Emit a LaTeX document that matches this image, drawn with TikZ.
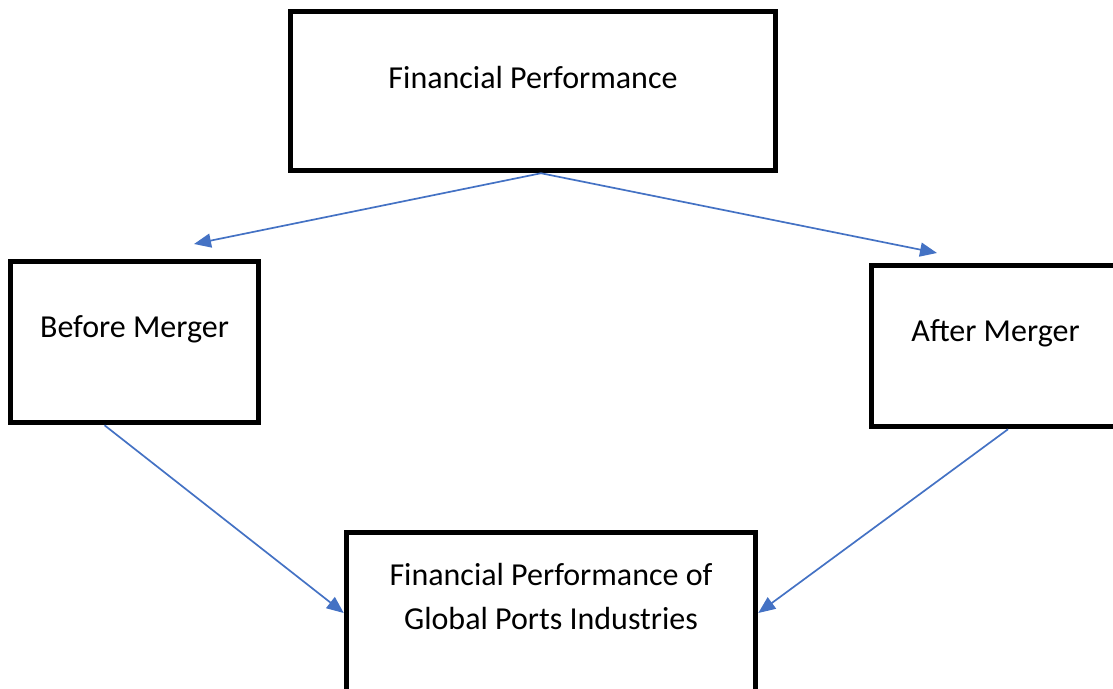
\documentclass[tikz,border=0pt]{standalone}
\usepackage{fontspec}
\setmainfont{Carlito}
\usetikzlibrary{arrows.meta,positioning}
\definecolor{linkblue}{RGB}{68,114,196}

\begin{document}
\begin{tikzpicture}[x=1pt,y=-1pt,
  panel/.style={draw=black, line width=5pt, inner sep=0pt, minimum width=248.5pt, minimum height=161.5pt},
  caption/.style={yshift=13pt, font=\fontsize{32}{44}\selectfont, align=center},
  link/.style={draw=linkblue, line width=1.7pt, -{Triangle[length=17pt,width=14pt]}}]
  \clip (0,0) rectangle (1113,688);

  % Boxes
  \node[panel, minimum width=485.5pt, minimum height=159.5pt,
        label={[caption]center:Financial Performance}] (perf) at (533,91) {};
  \node[panel, label={[caption]center:Before Merger}] (before) at (134.5,342) {};
  \node[panel, label={[caption]center:After Merger}] (after) at (995.5,346) {};
  \node[panel, minimum width=409.5pt, minimum height=161.5pt,
        label={[caption, yshift=4pt]center:Financial Performance of\\Global Ports Industries}] (ports) at (551,613) {};

  % Free arrow ends above the merger boxes
  \coordinate (beforein) at (194,244);
  \coordinate (afterin) at (937,253);

  % Connectors
  \draw[link] ([xshift=8pt]perf.south) -- (beforein);
  \draw[link] ([xshift=8pt]perf.south) -- (afterin);
  \draw[link] ([xshift=-30pt]before.south) -- (ports.west);
  \draw[link] ([xshift=12.5pt]after.south) -- (ports.east);
\end{tikzpicture}
\end{document}
